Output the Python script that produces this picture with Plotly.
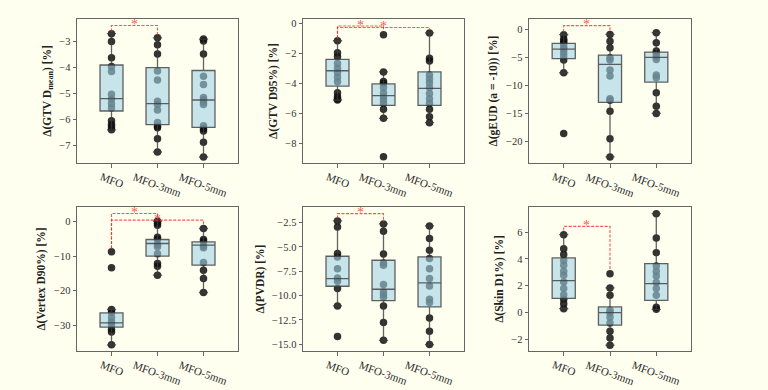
import plotly.graph_objects as go
from plotly.subplots import make_subplots

labels = ["MFO", "MFO-3mm", "MFO-5mm"]

titles = [
    "<b>Δ(GTV D<sub>mean</sub>) [%]</b>",
    "<b>Δ(GTV D95%) [%]</b>",
    "<b>Δ(gEUD (a = -10)) [%]</b>",
    "<b>Δ(Vertex D90%) [%]</b>",
    "<b>Δ(PVDR) [%]</b>",
    "<b>Δ(Skin D1%) [%]</b>",
]

# ---- Panel 1: GTV Dmean ----
dmean_mfo = [-2.71, -3.01, -3.63, -3.97, -4.16, -5.03, -5.21, -5.39, -5.56, -6.04, -6.19, -6.28, -6.39]
dmean_3mm = [-2.87, -3.14, -3.49, -4.14, -4.48, -5.30, -5.42, -5.63, -6.11, -6.25, -6.31, -6.73, -7.24]
dmean_5mm = [-2.92, -2.99, -3.49, -4.34, -4.66, -5.15, -5.24, -5.33, -5.42, -6.23, -6.35, -6.44, -6.87, -7.43]
dmean_lo = [-6.39, -7.24, -7.43]
dmean_q1 = [-5.67, -6.19, -6.30]
dmean_med = [-5.20, -5.39, -5.25]
dmean_q3 = [-3.91, -4.01, -4.12]
dmean_hi = [-2.71, -2.87, -2.92]

# ---- Panel 2: GTV D95 ----
d95_mfo = [-1.16, -1.96, -2.22, -2.67, -3.00, -3.29, -3.60, -3.89, -4.62, -4.89, -5.04, -5.11]
d95_3mm = [-0.76, -3.24, -3.87, -4.00, -4.27, -4.62, -4.89, -5.11, -5.33, -5.73, -6.33, -8.89]
d95_5mm = [-0.64, -2.33, -2.51, -3.44, -3.71, -3.96, -4.27, -4.67, -5.02, -5.33, -5.73, -6.22, -6.62]
d95_lo = [-5.11, -6.33, -6.62]
d95_q1 = [-4.18, -5.47, -5.47]
d95_med = [-3.16, -4.82, -4.33]
d95_q3 = [-2.40, -4.04, -3.24]
d95_hi = [-1.16, -3.24, -0.64]

# ---- Panel 3: gEUD ----
geud_mfo = [-0.96, -1.79, -2.15, -2.51, -3.10, -3.58, -4.12, -4.78, -5.49, -7.76, -18.63]
geud_3mm = [-0.90, -2.15, -3.28, -5.07, -5.49, -7.28, -8.36, -12.42, -12.66, -14.63, -19.58, -22.81]
geud_5mm = [-0.60, -2.39, -3.88, -4.30, -4.90, -5.37, -8.18, -8.66, -11.34, -13.73, -15.04]
geud_lo = [-7.76, -22.81, -15.04]
geud_q1 = [-5.25, -13.07, -9.43]
geud_med = [-3.52, -6.27, -5.01]
geud_q3 = [-2.51, -4.60, -4.06]
geud_hi = [-0.96, -0.90, -0.60]

# ---- Panel 4: Vertex D90 ----
vtx_mfo = [-8.71, -13.36, -25.46, -26.33, -27.80, -29.04, -29.90, -31.17, -31.95, -35.72]
vtx_3mm = [0.19, -0.39, -0.97, -4.45, -5.03, -6.58, -7.26, -9.29, -12.10, -12.87, -15.49]
vtx_5mm = [-1.94, -5.13, -5.61, -6.97, -7.55, -11.81, -14.04, -16.46, -20.52]
vtx_lo = [-35.72, -15.49, -20.52]
vtx_q1 = [-30.59, -9.97, -12.58]
vtx_med = [-29.33, -6.29, -6.78]
vtx_q3 = [-26.43, -5.13, -5.81]
vtx_hi = [-25.46, 0.19, -1.94]

# ---- Panel 5: PVDR ----
pvdr_mfo = [-2.33, -2.95, -5.68, -6.03, -7.23, -8.18, -8.53, -9.28, -11.06, -14.21]
pvdr_3mm = [-2.64, -3.39, -5.72, -6.64, -6.88, -8.87, -9.62, -9.90, -10.17, -11.06, -12.77, -14.59]
pvdr_5mm = [-2.84, -4.14, -5.34, -6.20, -7.23, -8.25, -9.01, -10.38, -10.72, -12.29, -13.66, -15.03]
pvdr_lo = [-11.06, -14.59, -15.03]
pvdr_q1 = [-9.04, -10.51, -11.16]
pvdr_med = [-8.25, -9.35, -8.70]
pvdr_q3 = [-5.96, -6.37, -6.03]
pvdr_hi = [-2.33, -2.64, -2.84]

# ---- Panel 6: Skin D1 ----
skin_mfo = [5.80, 4.76, 4.32, 3.89, 3.52, 3.08, 2.78, 2.28, 1.79, 1.34, 0.99, 0.67, 0.30]
skin_3mm = [2.90, 1.84, 1.29, 0.18, 0.00, -0.34, -0.76, -1.38, -1.88, -2.42]
skin_5mm = [7.36, 5.55, 4.46, 3.47, 3.08, 2.73, 2.24, 1.79, 1.29, 0.40, 0.25]
skin_lo = [0.30, -2.42, 0.25]
skin_q1 = [1.07, -0.93, 0.92]
skin_med = [2.38, 0.00, 2.16]
skin_q3 = [4.07, 0.43, 3.65]
skin_hi = [5.80, 1.84, 7.36]

# significance brackets: (group_a, group_b, bar level, leg a bottom, leg b bottom)
sig_dmean = [(0, 1, -2.40, -2.63, -2.78)]
sig_d95 = [(0, 1, -0.18, -1.00, -0.49), (0, 2, -0.28, -1.00, -0.40)]
sig_geud = [(0, 1, 0.66, -0.42, -0.42)]
sig_vtx = [(0, 1, 2.42, -7.74, 0.97), (0, 2, 0.48, -7.74, -1.16)]
sig_pvdr = [(0, 1, -1.58, -2.09, -2.43)]
sig_skin = [(0, 1, 6.42, 6.12, 3.15)]

panels = [
    ([dmean_mfo, dmean_3mm, dmean_5mm], [dmean_lo, dmean_q1, dmean_med, dmean_q3, dmean_hi], sig_dmean),
    ([d95_mfo, d95_3mm, d95_5mm], [d95_lo, d95_q1, d95_med, d95_q3, d95_hi], sig_d95),
    ([geud_mfo, geud_3mm, geud_5mm], [geud_lo, geud_q1, geud_med, geud_q3, geud_hi], sig_geud),
    ([vtx_mfo, vtx_3mm, vtx_5mm], [vtx_lo, vtx_q1, vtx_med, vtx_q3, vtx_hi], sig_vtx),
    ([pvdr_mfo, pvdr_3mm, pvdr_5mm], [pvdr_lo, pvdr_q1, pvdr_med, pvdr_q3, pvdr_hi], sig_pvdr),
    ([skin_mfo, skin_3mm, skin_5mm], [skin_lo, skin_q1, skin_med, skin_q3, skin_hi], sig_skin),
]

y_ranges = [(-7.66, -2.15), (-9.31, 0.29), (-23.9, 1.85), (-37.5, 4.3), (-15.69, -0.9), (-2.85, 7.86)]
y_dticks = [1, 2, 5, 10, 2.5, 2]
y_formats = ["", "", "", "", ".1f", ""]

x_domains = [(77 / 768, 238 / 768), (303 / 768, 464 / 768), (529 / 768, 691 / 768)]
y_domains = [(1 - 163 / 390, 1 - 19 / 390), (1 - 351 / 390, 1 - 207 / 390)]

BG = "#fffff0"
SERIF = "Liberation Serif"
RED = "rgba(255,40,40,0.8)"

fig = make_subplots(rows=2, cols=3)

annotations = []
for k, (groups, stats, sigs) in enumerate(panels):
    r, c = k // 3 + 1, k % 3 + 1
    ax = "" if k == 0 else str(k + 1)
    # points (as a box trace with an invisible box so they sit beneath the boxes)
    xs, ys = [], []
    for i, pts in enumerate(groups):
        xs += [i] * len(pts)
        ys += pts
    fig.add_trace(go.Box(
        x=xs, y=ys, boxpoints="all", jitter=0, pointpos=0, width=0.5,
        fillcolor="rgba(0,0,0,0)", line=dict(width=0, color="rgba(0,0,0,0)"),
        marker=dict(size=7.5, color="rgba(15,15,15,0.85)", line=dict(width=0)),
        showlegend=False, hoverinfo="y"), row=r, col=c)
    lo, q1, med, q3, hi = stats
    fig.add_trace(go.Box(
        x=[0, 1, 2], lowerfence=lo, q1=q1, median=med, q3=q3, upperfence=hi,
        width=0.5, whiskerwidth=0.4, boxpoints=False,
        fillcolor="rgba(160,210,228,0.6)",
        line=dict(color="rgba(60,60,60,0.8)", width=1.3),
        showlegend=False), row=r, col=c)
    # significance brackets
    for (a, b, lvl, la, lb) in sigs:
        fig.add_trace(go.Scatter(
            x=[a, a, b, b], y=[la, lvl, lvl, lb], mode="lines",
            line=dict(color=RED, width=1.1, dash="3px,1.5px"),
            showlegend=False, hoverinfo="skip"), row=r, col=c)
        annotations.append(dict(
            x=(a + b) / 2, y=lvl, xref="x" + ax, yref="y" + ax, text="*",
            showarrow=False, yanchor="middle", xanchor="center", yshift=1,
            font=dict(family=SERIF, size=14, color=RED)))
    # category labels
    for i, lab in enumerate(labels):
        annotations.append(dict(
            x=i, y=0, xref="x" + ax, yref="y" + ax + " domain", text=lab,
            showarrow=False, textangle=20, xanchor="center", yanchor="top",
            yshift=-5, font=dict(family=SERIF, size=11, color="#2a2a2a")))

    fig.update_xaxes(
        domain=x_domains[c - 1], range=[-0.75, 2.75], tickvals=[0, 1, 2],
        showticklabels=False, ticks="outside", ticklen=3.5, tickcolor="#666",
        showline=True, linecolor="#666", linewidth=1, mirror=True,
        showgrid=False, zeroline=False, row=r, col=c)
    fig.update_yaxes(
        domain=y_domains[r - 1], range=list(y_ranges[k]), dtick=y_dticks[k],
        tick0=0, tickformat=y_formats[k],
        ticks="outside", ticklen=3.5, tickcolor="#666",
        tickfont=dict(family=SERIF, size=10.5, color="#333"),
        showline=True, linecolor="#666", linewidth=1, mirror=True,
        showgrid=False, zeroline=False,
        title=dict(text=titles[k], font=dict(family=SERIF, size=11.5, color="#222"), standoff=5),
        row=r, col=c)

fig.update_layout(
    width=768, height=390, margin=dict(l=0, r=0, t=0, b=0),
    paper_bgcolor=BG, plot_bgcolor=BG, annotations=annotations,
    showlegend=False, boxmode="overlay")

fig.write_html("out.html")
